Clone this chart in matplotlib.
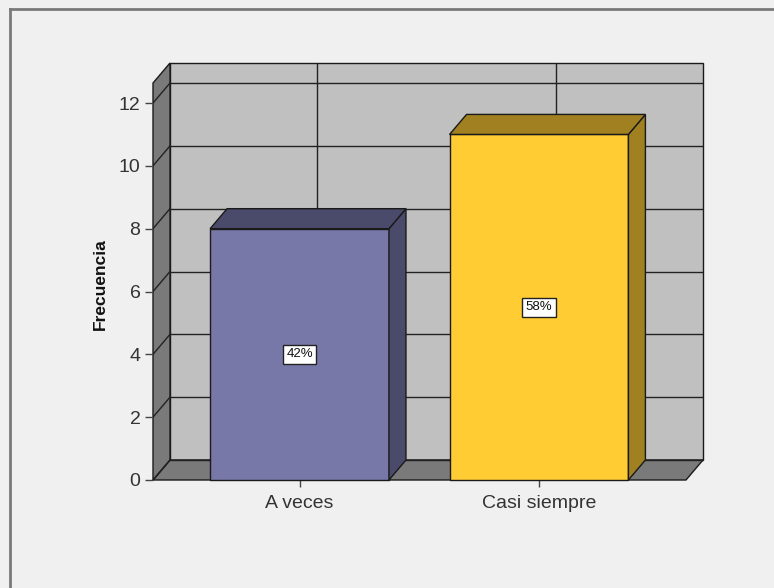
import matplotlib.pyplot as plt
from matplotlib.patches import Polygon
from matplotlib.lines import Line2D

plt.rcParams['font.family'] = ['Liberation Sans', 'DejaVu Sans']

categorias = ['A veces', 'Casi siempre']
frecuencias = [8, 11]
porcentajes = ['42%', '58%']
yticks = [0, 2, 4, 6, 8, 10, 12]

frente = ['#7878a8', '#ffcc33']
lado = ['#4a4a6a', '#a08020']

# profundidad del efecto 3D en unidades de datos
dx = 0.071
dy = 0.637
x_min, x_max = -0.612, 1.614
y_max = 12.0 + dy
ancho = 0.747

W, H = 774, 588
fig = plt.figure(figsize=(W / 100, H / 100), dpi=100)
fig.patch.set_facecolor('#f0f0f0')

# marco exterior (solo se ve arriba y a la izquierda)
fig.add_artist(Line2D([10 / W, 10 / W], [0, 1 - 9 / H], transform=fig.transFigure,
                      color='#7a7a7a', lw=2))
fig.add_artist(Line2D([10 / W, 1], [1 - 9 / H, 1 - 9 / H], transform=fig.transFigure,
                      color='#7a7a7a', lw=2))

ax = fig.add_axes([153 / W, (H - 480) / H, (703 - 153) / W, (480 - 63) / H])
ax.set_xlim(x_min, x_max + dx)
ax.set_ylim(0, y_max + dy)
ax.set_facecolor('none')
for s in ax.spines.values():
    s.set_visible(False)

borde = dict(edgecolor='#1a1a1a', lw=1.0, joinstyle='miter', clip_on=False)

# pared del fondo
ax.add_patch(Polygon([(x_min + dx, dy), (x_max + dx, dy), (x_max + dx, y_max + dy),
                      (x_min + dx, y_max + dy)], closed=True, facecolor='#c0c0c0',
                     zorder=1, **borde))
# suelo
ax.add_patch(Polygon([(x_min, 0), (x_max, 0), (x_max + dx, dy), (x_min + dx, dy)],
                     closed=True, facecolor='#7a7a7a', zorder=1, **borde))
# pared izquierda
ax.add_patch(Polygon([(x_min, 0), (x_min + dx, dy), (x_min + dx, y_max + dy), (x_min, y_max)],
                     closed=True, facecolor='#7a7a7a', zorder=1, **borde))

# rejilla
for v in yticks:
    ax.plot([x_min + dx, x_max + dx], [v + dy, v + dy], color='#222222', lw=1.0, zorder=2)
    ax.plot([x_min, x_min + dx], [v, v + dy], color='#222222', lw=1.0, zorder=2)
for i in range(len(categorias)):
    ax.plot([i + dx, i + dx], [dy, y_max + dy], color='#222222', lw=1.0, zorder=2)

# barras 3D
for i, (v, p) in enumerate(zip(frecuencias, porcentajes)):
    x0, x1 = i - ancho / 2, i + ancho / 2
    ax.add_patch(Polygon([(x0, 0), (x1, 0), (x1, v), (x0, v)], closed=True,
                         facecolor=frente[i], zorder=3, **borde))
    ax.add_patch(Polygon([(x1, 0), (x1 + dx, dy), (x1 + dx, v + dy), (x1, v)], closed=True,
                         facecolor=lado[i], zorder=3, **borde))
    ax.add_patch(Polygon([(x0, v), (x1, v), (x1 + dx, v + dy), (x0 + dx, v + dy)], closed=True,
                         facecolor=lado[i], zorder=3, **borde))
    ax.text(i, v / 2, p, ha='center', va='center', fontsize=9.5, color='#111111', zorder=4,
            bbox=dict(boxstyle='square,pad=0.25', facecolor='white', edgecolor='#222222', lw=1))

ax.set_yticks(yticks)
ax.set_yticklabels([str(t) for t in yticks])
ax.set_xticks(range(len(categorias)))
ax.set_xticklabels(categorias)
ax.tick_params(axis='y', direction='out', length=6, width=1, color='#444444',
               labelsize=14, labelcolor='#333333', pad=3)
ax.tick_params(axis='x', direction='out', length=5, width=1, color='#444444',
               labelsize=14, labelcolor='#333333', pad=6)

fig.text(100 / W, 1 - 284 / H, 'Frecuencia', rotation=90, ha='center', va='center',
         fontsize=12.5, fontweight='bold', color='#111111')

fig.savefig('out.png', dpi=100, facecolor=fig.get_facecolor())
